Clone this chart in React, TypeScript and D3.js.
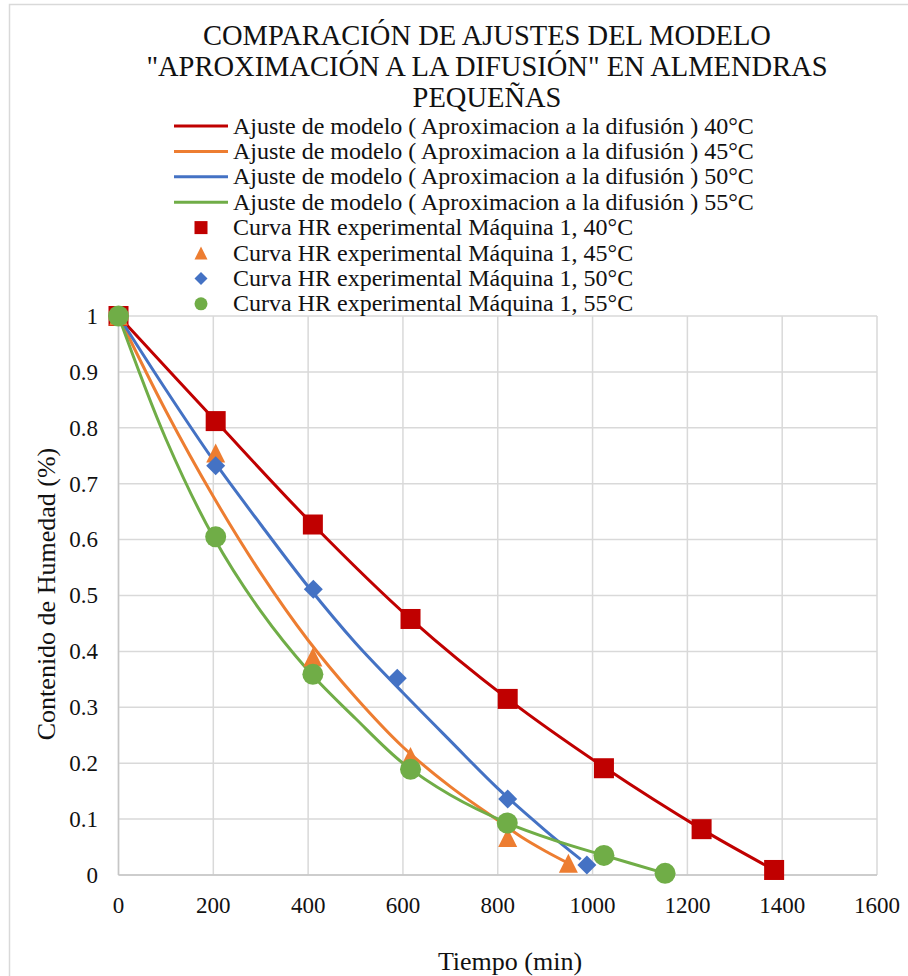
import React from "react";
import * as d3 from "d3";

const titleLines = [
  "COMPARACIÓN DE AJUSTES DEL MODELO",
  "\"APROXIMACIÓN A LA DIFUSIÓN\" EN ALMENDRAS",
  "PEQUEÑAS",
];

const temps = ["40°C", "45°C", "50°C", "55°C"];
const colors = ["#C00000", "#ED7D31", "#4472C4", "#70AD47"];
const markerShapes = ["square", "triangle", "diamond", "circle"];

// Experimental points
const timeExp40 = [0, 205, 410, 616, 821, 1024, 1230, 1383];
const hrExp40 = [1, 0.812, 0.627, 0.458, 0.315, 0.191, 0.082, 0.009];
const timeExp45 = [0, 205, 410, 616, 821, 949];
const hrExp45 = [1, 0.755, 0.39, 0.212, 0.067, 0.021];
const timeExp50 = [0, 205, 411, 588, 821, 988];
const hrExp50 = [1, 0.732, 0.511, 0.352, 0.136, 0.018];
const timeExp55 = [0, 205, 410, 616, 820, 1024, 1153];
const hrExp55 = [1, 0.605, 0.359, 0.189, 0.093, 0.035, 0.003];

// Model fits (Aproximación a la difusión)
const timeFit40 = [0, 205, 410, 616, 821, 1024, 1230, 1383];
const hrFit40 = [1, 0.812, 0.627, 0.458, 0.315, 0.193, 0.082, 0.009];
const timeFit45 = [0, 100, 200, 300, 400, 500, 600, 700, 800, 850, 900, 949];
const hrFit45 = [1, 0.83, 0.677, 0.54, 0.42, 0.318, 0.229, 0.158, 0.098, 0.068, 0.043, 0.021];
const timeFit50 = [0, 100, 200, 300, 400, 500, 600, 700, 800, 900, 975];
const hrFit50 = [1, 0.868, 0.742, 0.627, 0.516, 0.415, 0.326, 0.24, 0.155, 0.08, 0.028];
const timeFit55 = [0, 100, 200, 300, 400, 500, 600, 700, 820, 920, 1024, 1153];
const hrFit55 = [1, 0.78, 0.605, 0.472, 0.366, 0.28, 0.2, 0.143, 0.093, 0.062, 0.035, 0.003];

const expTimes = [timeExp40, timeExp45, timeExp50, timeExp55];
const expHR = [hrExp40, hrExp45, hrExp50, hrExp55];
const fitTimes = [timeFit40, timeFit45, timeFit50, timeFit55];
const fitHR = [hrFit40, hrFit45, hrFit50, hrFit55];

const xTicks = [0, 200, 400, 600, 800, 1000, 1200, 1400, 1600];
const yTicks = [0, 0.1, 0.2, 0.3, 0.4, 0.5, 0.6, 0.7, 0.8, 0.9, 1];

const xTitle = "Tiempo (min)";
const yTitle = "Contenido de Humedad (%)";
const fitLabel = (t: string) => `Ajuste de modelo ( Aproximacion a la difusión ) ${t}`;
const expLabel = (t: string) => `Curva HR experimental Máquina 1, ${t}`;

const FONT = "Liberation Serif, DejaVu Serif, serif";

function Marker({ shape, cx, cy, size, color }: { shape: string; cx: number; cy: number; size: number; color: string }) {
  const h = size / 2;
  if (shape === "square") return <rect x={cx - h} y={cy - h} width={size} height={size} fill={color} />;
  if (shape === "triangle")
    return <path d={`M${cx},${cy - h}L${cx + h},${cy + h}L${cx - h},${cy + h}Z`} fill={color} />;
  if (shape === "diamond")
    return <path d={`M${cx},${cy - h}L${cx + h},${cy}L${cx},${cy + h}L${cx - h},${cy}Z`} fill={color} />;
  return <circle cx={cx} cy={cy} r={h} fill={color} />;
}

export default function App() {
  const x = d3.scaleLinear().domain([0, 1600]).range([118.5, 877]);
  const y = d3.scaleLinear().domain([0, 1]).range([875, 316]);
  const line = d3
    .line<[number, number]>()
    .x((d) => x(d[0]))
    .y((d) => y(d[1]))
    .curve(d3.curveCatmullRom.alpha(0.5));

  const legendY0 = 126;
  const legendStep = 25.4;
  const ts = { fontFamily: FONT };

  return (
    <svg
      width={908}
      height={976}
      style={{ position: "absolute", left: 0, top: 0, background: "#fff", fontFamily: FONT }}
    >
      <rect x={0} y={0} width={908} height={976} fill="#fff" />
      {/* chart area border */}
      <path d="M9.5,990 L9.5,4.5 L930,4.5" fill="none" stroke="#D9D9D9" strokeWidth={1.5} />

      {/* title */}
      {titleLines.map((t, i) => (
        <text key={i} x={487} y={45 + i * 31} textAnchor="middle" fontSize={28.5} fill="#111" style={ts}>
          {t}
        </text>
      ))}

      {/* gridlines */}
      {yTicks.map((v) => (
        <line key={"gy" + v} x1={x(0)} x2={x(1600)} y1={y(v)} y2={y(v)} stroke="#D9D9D9" strokeWidth={1.5} />
      ))}
      {xTicks.map((v) => (
        <line key={"gx" + v} x1={x(v)} x2={x(v)} y1={y(0)} y2={y(1)} stroke="#D9D9D9" strokeWidth={1.5} />
      ))}
      {/* axes */}
      <line x1={x(0)} x2={x(1600)} y1={y(0)} y2={y(0)} stroke="#C6C6C6" strokeWidth={1.5} />
      <line x1={x(0)} x2={x(0)} y1={y(0)} y2={y(1)} stroke="#C6C6C6" strokeWidth={1.5} />

      {/* tick labels */}
      {xTicks.map((v) => (
        <text key={"tx" + v} x={x(v)} y={913} textAnchor="middle" fontSize={23} fill="#111" style={ts}>
          {v}
        </text>
      ))}
      {yTicks.map((v) => (
        <text key={"ty" + v} x={98} y={y(v) + 7.8} textAnchor="end" fontSize={23} fill="#111" style={ts}>
          {d3.format("~g")(v)}
        </text>
      ))}

      {/* axis titles */}
      <text x={510} y={970} textAnchor="middle" fontSize={26} fill="#111" style={ts}>
        {xTitle}
      </text>
      <text transform="translate(55,594) rotate(-90)" textAnchor="middle" fontSize={26} fill="#111" style={ts}>
        {yTitle}
      </text>

      {/* fit lines */}
      {fitTimes.map((tt, i) => (
        <path
          key={"fit" + i}
          d={line(tt.map((t, j) => [t, fitHR[i][j]] as [number, number])) || ""}
          fill="none"
          stroke={colors[i]}
          strokeWidth={3}
          strokeLinejoin="round"
        />
      ))}

      {/* experimental markers */}
      {expTimes.map((tt, i) => (
        <g key={"exp" + i}>
          {tt.map((t, j) => (
            <Marker key={j} shape={markerShapes[i]} cx={x(t)} cy={y(expHR[i][j])} size={i === 0 ? 20 : i === 3 ? 21 : 19} color={colors[i]} />
          ))}
        </g>
      ))}

      {/* legend */}
      {temps.map((t, i) => {
        const cy = legendY0 + i * legendStep;
        return (
          <g key={"lf" + i}>
            <line x1={174} x2={228} y1={cy} y2={cy} stroke={colors[i]} strokeWidth={3} />
            <text x={233} y={cy + 7.5} fontSize={24} fill="#111" style={ts}>
              {fitLabel(t)}
            </text>
          </g>
        );
      })}
      {temps.map((t, i) => {
        const cy = legendY0 + (i + 4) * legendStep;
        return (
          <g key={"le" + i}>
            <Marker shape={markerShapes[i]} cx={201} cy={cy} size={13} color={colors[i]} />
            <text x={233} y={cy + 7.5} fontSize={24} fill="#111" style={ts}>
              {expLabel(t)}
            </text>
          </g>
        );
      })}
    </svg>
  );
}
